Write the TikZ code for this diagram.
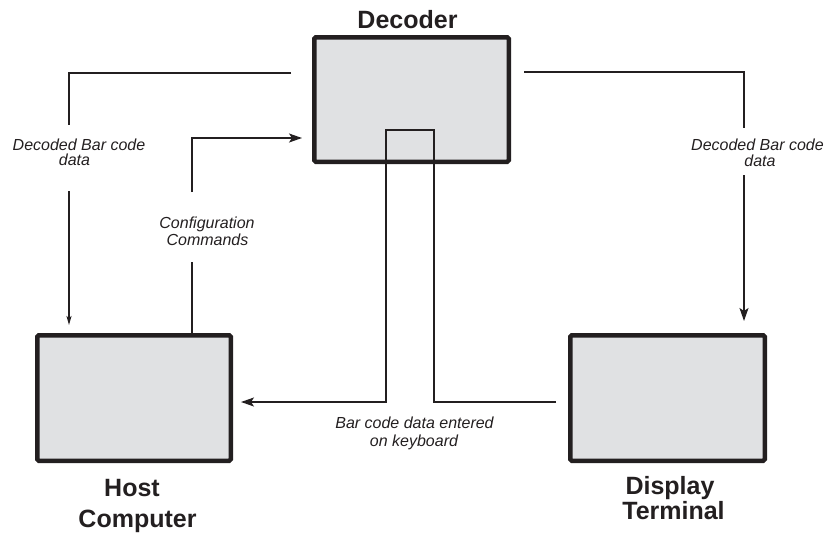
\documentclass[tikz,border=0pt]{standalone}
\usepackage{fontspec}
\setmainfont{Liberation Sans}
\usetikzlibrary{arrows.meta}
\definecolor{boxfill}{HTML}{E0E1E3}
\definecolor{ink}{HTML}{231F20}
\begin{document}
\begin{tikzpicture}[x=1pt,y=-1pt,
  unit/.style={draw=ink, fill=boxfill, line width=4.5pt, rounded corners=1.5pt,
    inner sep=0pt, minimum width=194.5pt, minimum height=125.5pt},
  title/.style={font=\bfseries\fontsize{25}{25}\selectfont, text=ink, anchor=base, inner sep=0pt},
  note/.style={font=\itshape\fontsize{16}{16}\selectfont, text=ink, anchor=base, inner sep=0pt},
  wire/.style={draw=ink, line width=1.5pt},
  flow/.style={wire, -{Stealth[length=13pt,width=9pt,inset=3pt]}},
  thinflow/.style={draw=ink, line width=1.2pt, -{Stealth[length=9pt,width=5pt,inset=2pt]}}]
\useasboundingbox (0,0) rectangle (830,533);

% units
\node[unit, minimum height=124.5pt] (dec) at (411.5,99.5) {};
\node[unit, minimum width=193.5pt] (host) at (134,398) {};
\node[unit] (term) at (667.5,398) {};

% unit titles
\node[title] (decT) at (407.5,28) {Decoder};
\node[title] (hostT1) at (132,496) {Host};
\node[title] (hostT2) at (137.5,527) {Computer};
\node[title] (termT1) at (670,494) {Display};
\node[title] (termT2) at (673.5,519) {Terminal};

% flow labels
\node[note] (ll1) at (79,150) {Decoded Bar code};
\node[note] (ll2) at (74.5,165) {data};
\node[note] (rl1) at (757.5,150) {Decoded Bar code};
\node[note] (rl2) at (760,166) {data};
\node[note] (cl1) at (207,228) {Configuration};
\node[note] (cl2) at (207.5,245) {Commands};
\node[note] (bl1) at (414.5,428) {Bar code data entered};
\node[note] (bl2) at (414,446) {on keyboard};

% decoder -> host
\draw[wire, shorten <=21pt] (dec.west |- 0,73) -| (69,125);
\draw[thinflow, shorten >=8pt] (69,191) -- (host.north -| 69,0);

% decoder -> display terminal
\draw[wire, shorten <=13pt] (dec.east |- 0,72) -| (744,128);
\draw[flow, shorten >=12pt] (744,175) -- (term.north -| 744,0);

% host -> decoder (configuration)
\draw[wire] (host.north -| 192,0) -- (192,262);
\draw[flow, shorten >=10pt] (192,192) |- (dec.west |- 0,138);

% keyboard wedge: terminal -> decoder -> host
\draw[flow, shorten <=12pt, shorten >=8pt]
  (term.west |- 0,402) -| (434,130) -| (386,402) -- (host.east |- 0,402);
\end{tikzpicture}
\end{document}
